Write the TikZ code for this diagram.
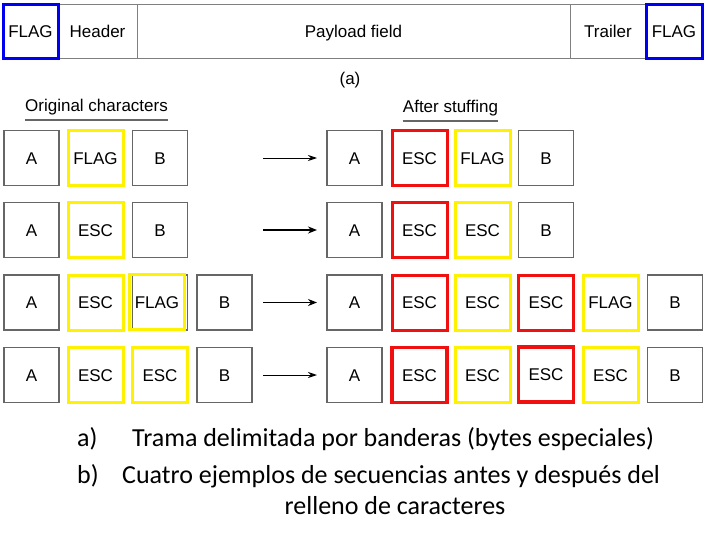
\documentclass[tikz,border=0pt]{standalone}
\usepackage{fontspec}
\setmainfont{Carlito}
\newfontfamily\arialf{Liberation Sans}
\usetikzlibrary{arrows.meta}
\definecolor{boxgray}{HTML}{666666}
\definecolor{bargray}{HTML}{808080}
\definecolor{flagblue}{HTML}{0000F0}
\definecolor{flagyellow}{HTML}{FFF200}
\definecolor{escred}{HTML}{F01010}
\tikzset{
  arialtxt/.style={font=\arialf\fontsize{17}{19}\selectfont},
  cell/.style={arialtxt, draw=boxgray, line width=1.2pt, minimum width=55pt, minimum height=55pt, inner sep=0pt, text height=12pt, text depth=0pt},
  flagcell/.style={cell, draw=flagyellow, line width=3pt},
  esccell/.style={cell, draw=escred, line width=3pt},
  barcell/.style={arialtxt, draw=bargray, line width=1pt, minimum height=53pt, inner sep=0pt, text height=12pt, text depth=0pt},
  bluecell/.style={barcell, draw=flagblue, line width=3pt},
  thinarrow/.style={line width=1pt, -{Stealth[length=9pt,width=6pt]}},
  thickarrow/.style={line width=1.8pt, -{Stealth[length=9pt,width=7pt]}},
  uline/.style={draw=boxgray, line width=2pt},
  caption/.style={font=\fontsize{26}{31}\selectfont, inner sep=0pt}
}
\begin{document}
\begin{tikzpicture}[x=1pt,y=-1pt]
\useasboundingbox (0,0) rectangle (711,535);
% top frame
\node[barcell, minimum width=79pt] (hdr) at (97.5,31.5) {Header};
\node[barcell, minimum width=433pt] (pay) at (353.5,31.5) {Payload field};
\node[barcell, minimum width=76pt] (trl) at (608,31.5) {Trailer};
\node[bluecell, minimum width=55pt] (flagl) at (30.5,31.5) {FLAG};
\node[bluecell, minimum width=56pt] (flagr) at (674,31.5) {FLAG};
\node[font=\arialf\fontsize{17}{19}\selectfont, inner sep=0pt] (lbla) at (350,80) {(a)};
% headings
\node[arialtxt, inner sep=0pt] (orig) at (96.5,107) {Original characters};
\draw[uline] ([yshift=-5pt]orig.south west) -- ([yshift=-5pt]orig.south east);
\node[arialtxt, inner sep=0pt] (after) at (450.5,108) {After stuffing};
\draw[uline] ([yshift=-5pt]after.south west) -- ([yshift=-5pt]after.south east);
% row 1
\node[cell] (l1a) at (31.5,158) {A};
\node[flagcell] (l1b) at (95.5,158) {FLAG};
\node[cell] (l1c) at (160,158) {B};
\node[cell] (r1a) at (354.5,158) {A};
\node[esccell] (r1b) at (419.5,158) {ESC};
\node[flagcell] (r1c) at (482.5,158) {FLAG};
\node[cell] (r1d) at (546,158) {B};
\coordinate (s1) at (263,158);
\coordinate (e1) at (317,158);
\draw[thinarrow] (s1) -- (e1);
% row 2
\node[cell] (l2a) at (31.5,230) {A};
\node[flagcell] (l2b) at (95.5,230) {ESC};
\node[cell] (l2c) at (160,230) {B};
\node[cell] (r2a) at (354.5,230) {A};
\node[esccell] (r2b) at (419.5,230) {ESC};
\node[flagcell] (r2c) at (482.5,230) {ESC};
\node[cell] (r2d) at (546,230) {B};
\coordinate (s2) at (263,230);
\coordinate (e2) at (317,230);
\draw[thickarrow] (s2) -- (e2);
% row 3
\node[cell] (l3a) at (31.5,302.5) {A};
\node[flagcell] (l3b) at (95.5,302.5) {ESC};
\node[cell] (l3c) at (160,302.5) {};
\node[flagcell] (l3cy) at (157,302) {FLAG};
\node[cell] (l3d) at (224.5,302.5) {B};
\node[cell] (r3a) at (354.5,302.5) {A};
\node[esccell] (r3b) at (419.5,302.5) {ESC};
\node[flagcell] (r3c) at (482.5,302.5) {ESC};
\node[esccell] (r3d) at (546,302.5) {ESC};
\node[flagcell] (r3e) at (610.5,302.5) {FLAG};
\node[cell] (r3f) at (675,302.5) {B};
\coordinate (s3) at (263,302.5);
\coordinate (e3) at (317,302.5);
\draw[thickarrow] (s3) -- (e3);
% row 4
\node[cell] (l4a) at (31.5,375) {A};
\node[flagcell] (l4b) at (95.5,375) {ESC};
\node[flagcell] (l4c) at (160,375) {ESC};
\node[cell] (l4d) at (224.5,375) {B};
\node[cell] (r4a) at (354.5,375) {A};
\node[esccell, line width=3.5pt] (r4b) at (419.5,375) {ESC};
\node[flagcell] (r4c) at (482.5,375) {ESC};
\node[esccell, line width=3.5pt] (r4d) at (546,374.5) {ESC};
\node[flagcell] (r4e) at (610.5,375) {ESC};
\node[cell] (r4f) at (675,375) {B};
\coordinate (s4) at (263,375);
\coordinate (e4) at (317,375);
\draw[thinarrow] (s4) -- (e4);
% captions
\node[caption, anchor=base west] (capa) at (77,446) {a)};
\node[caption, anchor=base west] (capat) at (132,446) {Trama delimitada por banderas (bytes especiales)};
\node[caption, anchor=base west] (capb) at (77,483) {b)};
\node[caption, anchor=base west] (capbt) at (122,483) {Cuatro ejemplos de secuencias antes y después del};
\node[caption, anchor=base] (capbt2) at (395,514) {relleno de caracteres};
\end{tikzpicture}
\end{document}
